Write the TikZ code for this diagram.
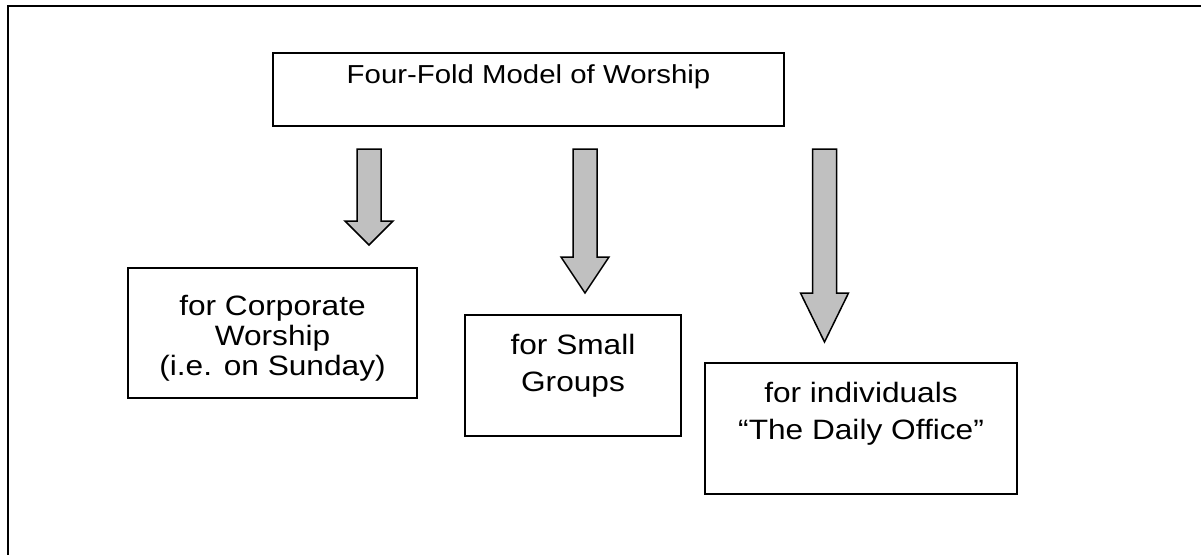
\documentclass[tikz,border=0pt]{standalone}
\usepackage{fontspec}
\setmainfont[FakeStretch=1.13]{Liberation Sans}
\usetikzlibrary{positioning}
\definecolor{arrowgray}{HTML}{C0C0C0}

\begin{document}
\begin{tikzpicture}[x=1pt,y=-1pt,
    box/.style={draw,line width=2pt,inner sep=0pt,outer sep=0pt},
    boxtext/.style={inner sep=0pt,outer sep=0pt,align=center,
        font=\fontsize{28}{36.5}\selectfont}]

        % Block arrow macro:
        % #1 = x of the shaft centre
        % #2 = y of the shaft top
        % #3 = y where the head starts
        % #4 = y of the tip
        \newcommand{\blockarrow}[4]{%
            \draw[line width=1.5pt,fill=arrowgray,line join=miter]
                (#1-12,#2) -- (#1+12,#2) -- (#1+12,#3) -- (#1+24,#3)
                -- (#1,#4) -- (#1-24,#3) -- (#1-12,#3) -- cycle;
        }

        \useasboundingbox (0,0) rectangle (1201,554);

        % page frame (open at right and bottom)
        \draw[line width=2.2pt] (8,560) -- (8,6) -- (1210,6);

        % title box
        \node[box,minimum width=511pt,minimum height=73pt] (model) at (528.5,89.5) {};
        \node[boxtext,font=\fontsize{26}{30}\selectfont,below=12pt of model.north] (modeltext)
            {Four-Fold Model of Worship};

        % arrows
        \blockarrow{369}{149}{221}{245}
        \blockarrow{585}{149}{257}{293}
        \blockarrow{824.5}{149}{293}{342}

        % the three uses
        \node[box,minimum width=289pt,minimum height=130pt] (corporate) at (272.5,333) {};
        \node[boxtext,font=\fontsize{28}{30}\selectfont,below=27.5pt of corporate.north] (corporatetext)
            {for Corporate\\Worship\\(i.e. on Sunday)};

        \node[box,minimum width=216pt,minimum height=121pt] (small) at (573,375.5) {};
        \node[boxtext,below=19.5pt of small.north] (smalltext) {for Small\\Groups};

        \node[box,minimum width=312pt,minimum height=131pt] (daily) at (861,428.5) {};
        \node[boxtext,below=19.5pt of daily.north] (dailytext)
            {for individuals\\“The Daily Office”};
    \end{tikzpicture}
\end{document}
